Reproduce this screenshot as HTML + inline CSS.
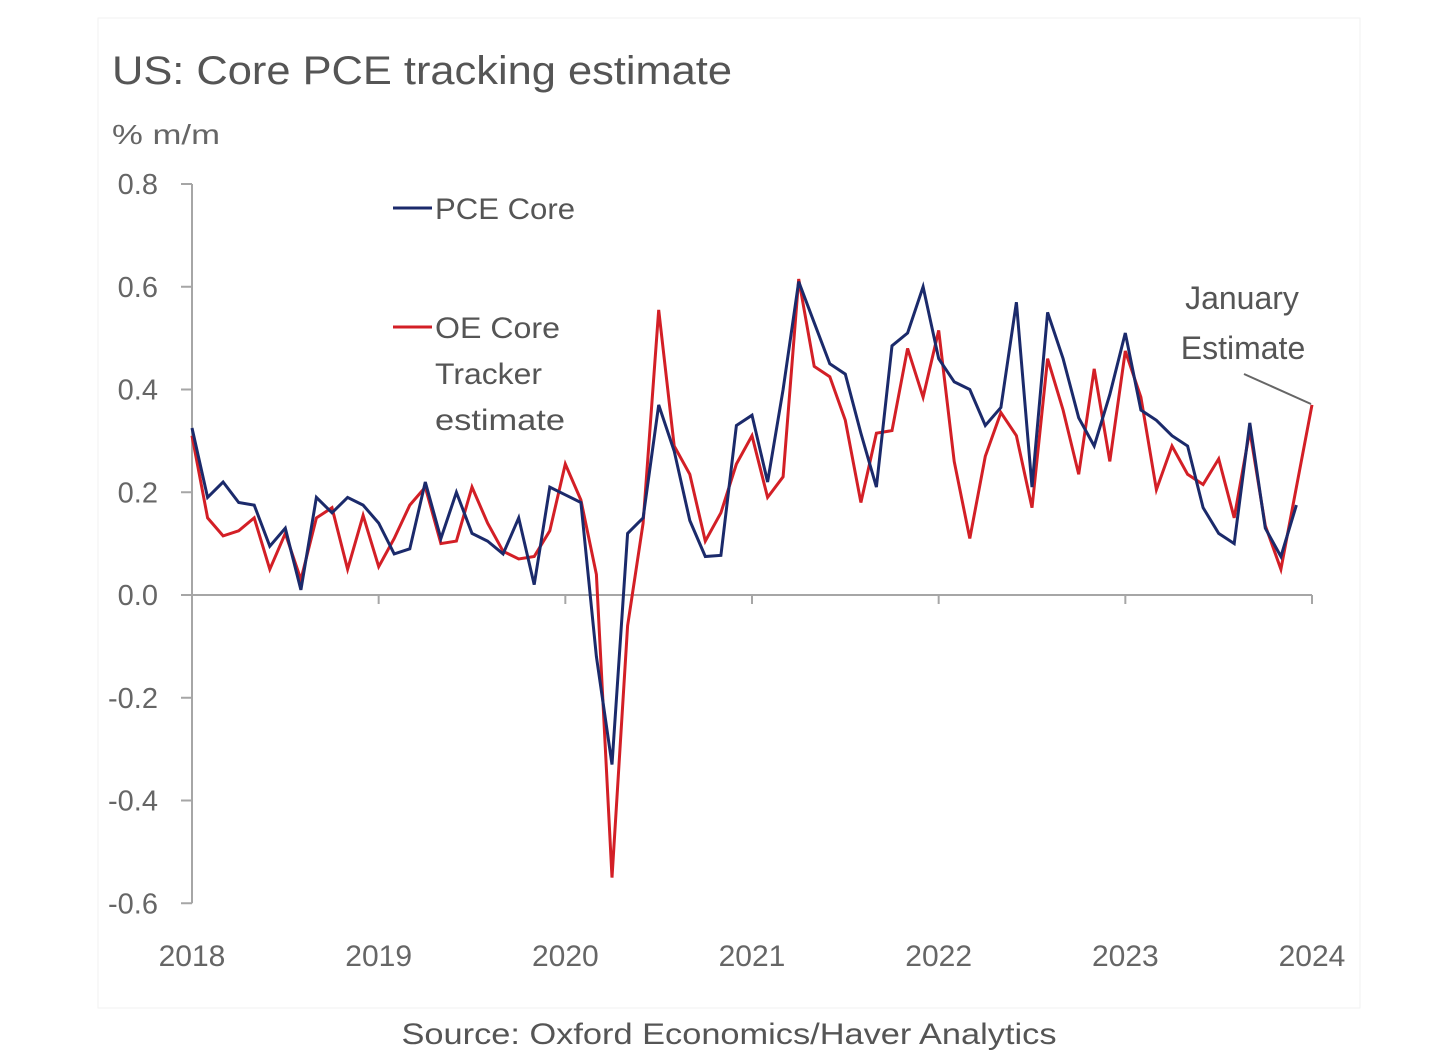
<!DOCTYPE html>
<html><head><meta charset="utf-8"><style>
html,body{margin:0;padding:0;background:#fff;}
svg{display:block;font-family:"Liberation Sans",sans-serif;}
</style></head><body>
<svg id="chart" width="1452" height="1058" viewBox="0 0 1452 1058">
<rect x="98" y="18" width="1262" height="990" fill="#fff" stroke="#f2f2f2"/>
<text x="112" y="84" font-size="40" fill="#555" textLength="620" lengthAdjust="spacingAndGlyphs">US: Core PCE tracking estimate</text>
<text x="112" y="144" font-size="28" fill="#666" textLength="108" lengthAdjust="spacingAndGlyphs">% m/m</text>
<g id="axes"></g>
<g id="series"></g>
<g>
<line x1="393" y1="208" x2="432" y2="208" stroke="#1b2a6b" stroke-width="3"/>
<text x="435" y="219" font-size="30" fill="#555" textLength="140" lengthAdjust="spacingAndGlyphs">PCE Core</text>
<line x1="393" y1="327" x2="432" y2="327" stroke="#d31f26" stroke-width="3"/>
<text font-size="30" fill="#555"><tspan x="435" y="338" textLength="125" lengthAdjust="spacingAndGlyphs">OE Core</tspan><tspan x="435" y="384" textLength="107" lengthAdjust="spacingAndGlyphs">Tracker</tspan><tspan x="435" y="430" textLength="130" lengthAdjust="spacingAndGlyphs">estimate</tspan></text>
</g>
<text font-size="32" fill="#555" text-anchor="middle"><tspan x="1242" y="309">January</tspan><tspan x="1243" y="359">Estimate</tspan></text>
<line x1="1244" y1="374" x2="1311" y2="404" stroke="#666" stroke-width="2"/>
<text x="729" y="1044" font-size="30" fill="#555" text-anchor="middle" textLength="655" lengthAdjust="spacingAndGlyphs">Source: Oxford Economics/Haver Analytics</text>
</svg>
<script>
const yTicks = [0.8, 0.6, 0.4, 0.2, 0.0, -0.2, -0.4, -0.6];
const yTickLabels = ["0.8","0.6","0.4","0.2","0.0","-0.2","-0.4","-0.6"];
const xYears = [2018, 2019, 2020, 2021, 2022, 2023, 2024];
const pceCore = [
0.325,0.19,0.22,0.18,0.175,0.095,0.13,0.01,0.19,0.16,0.19,0.175,
0.14,0.08,0.09,0.22,0.11,0.2,0.12,0.105,0.08,0.15,0.02,0.21,
0.195,0.18,-0.12,-0.33,0.12,0.15,0.37,0.28,0.145,0.075,0.077,0.33,
0.35,0.22,0.40,0.61,0.53,0.45,0.43,0.315,0.21,0.485,0.51,0.60,
0.46,0.415,0.40,0.33,0.365,0.57,0.21,0.55,0.46,0.345,0.29,0.39,
0.51,0.36,0.34,0.31,0.29,0.17,0.12,0.10,0.335,0.13,0.075,0.175];
const oeTracker = [
0.31,0.15,0.115,0.125,0.15,0.05,0.12,0.03,0.15,0.17,0.05,0.155,
0.055,0.11,0.175,0.21,0.10,0.105,0.21,0.14,0.085,0.07,0.075,0.125,
0.255,0.185,0.04,-0.55,-0.06,0.14,0.555,0.29,0.235,0.105,0.16,0.255,
0.31,0.19,0.23,0.615,0.445,0.425,0.34,0.18,0.315,0.32,0.48,0.385,
0.515,0.26,0.11,0.27,0.355,0.31,0.17,0.46,0.36,0.235,0.44,0.26,
0.475,0.385,0.205,0.29,0.235,0.215,0.265,0.15,0.32,0.135,0.05,0.21,
0.37];

const X0 = 192, X1 = 1312, Y0 = 595, PX_PER_UNIT = 513.75;
function xMonth(i){ return X0 + (X1 - X0) * i / 72; }
function yVal(v){ return Y0 - v * PX_PER_UNIT; }
const NS = "http://www.w3.org/2000/svg";
function mk(tag, attrs){ const e = document.createElementNS(NS, tag); for (const k in attrs) e.setAttribute(k, attrs[k]); return e; }

const axes = document.getElementById('axes');
const yAxis = mk('line', {x1:X0, y1:yVal(0.8), x2:X0, y2:yVal(-0.6), stroke:'#a6a6a6', 'stroke-width':2});


axes.appendChild(yAxis);
yTicks.forEach((t, k) => {
  const tk = mk('line', {x1:X0-11, y1:yVal(t), x2:X0, y2:yVal(t), stroke:'#a6a6a6', 'stroke-width':2});
  
  
  axes.appendChild(tk);
  const lb = mk('text', {x:158, y:yVal(t)+10, 'font-size':29, fill:'#666', 'text-anchor':'end'});
  lb.textContent = yTickLabels[k];
  
  
  axes.appendChild(lb);
});
const xAxis = mk('line', {x1:X0, y1:Y0, x2:X1, y2:Y0, stroke:'#a6a6a6', 'stroke-width':2});


axes.appendChild(xAxis);
xYears.forEach((yr, k) => {
  const x = xMonth(k * 12);
  const tk = mk('line', {x1:x, y1:Y0, x2:x, y2:Y0+9, stroke:'#a6a6a6', 'stroke-width':2});
  
  
  axes.appendChild(tk);
  const lb = mk('text', {x:x, y:966, 'font-size':30, fill:'#666', 'text-anchor':'middle'});
  lb.textContent = yr;
  
  
  axes.appendChild(lb);
});

const series = document.getElementById('series');
function pts(arr){ return arr.map((v, i) => xMonth(i).toFixed(1) + ',' + yVal(v).toFixed(1)).join(' '); }
const redLine = mk('polyline', {points:pts(oeTracker), fill:'none', stroke:'#d31f26', 'stroke-width':3, 'stroke-linejoin':'miter'});


series.appendChild(redLine);
const blueLine = mk('polyline', {points:pts(pceCore), fill:'none', stroke:'#1b2a6b', 'stroke-width':3, 'stroke-linejoin':'miter'});


series.appendChild(blueLine);
</script>
</body></html>
